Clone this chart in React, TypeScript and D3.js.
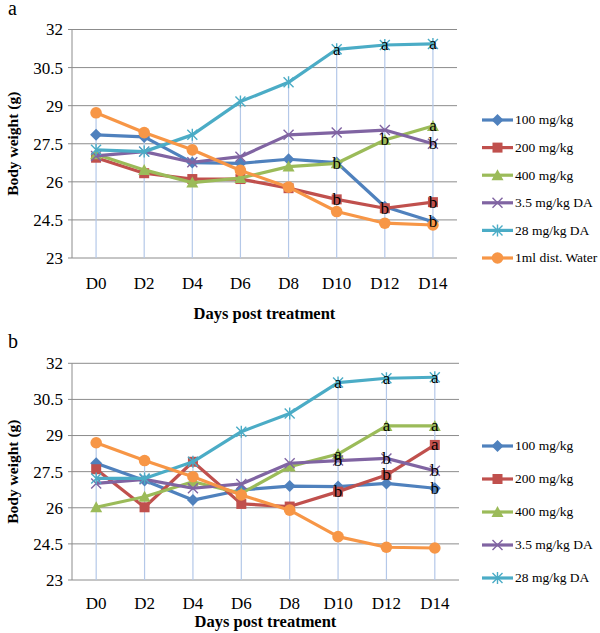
import React from "react";
import * as d3 from "d3";

const days = ["D0", "D2", "D4", "D6", "D8", "D10", "D12", "D14"];
const yTicks = [23, 24.5, 26, 27.5, 29, 30.5, 32];
const seriesNames = ["100 mg/kg", "200 mg/kg", "400 mg/kg", "3.5 mg/kg DA", "28 mg/kg DA", "1ml dist. Water"];
const colors = ["#4F81BD", "#C0504D", "#9BBB59", "#8064A2", "#4BACC6", "#F79646"];
const markers = ["diamond", "square", "triangle", "x", "star", "circle"];

// Panel a values
const a100 = [27.85, 27.77, 26.76, 26.73, 26.89, 26.76, 25.02, 24.43];
const a200 = [26.95, 26.34, 26.11, 26.11, 25.75, 25.31, 24.96, 25.2];
const a400 = [27.09, 26.47, 25.97, 26.15, 26.6, 26.73, 27.65, 28.2];
const aDA35 = [27.02, 27.19, 26.77, 26.99, 27.85, 27.94, 28.04, 27.5];
const aDA28 = [27.26, 27.19, 27.85, 29.16, 29.92, 31.22, 31.39, 31.43];
const aWater = [28.72, 27.94, 27.26, 26.45, 25.79, 24.83, 24.37, 24.3];
const aLetters100 = ["", "", "", "", "", "", "", "b"];
const aLetters200 = ["", "", "", "", "", "b", "b", "b"];
const aLetters400 = ["", "", "", "", "", "b", "b", "a"];
const aLettersDA35 = ["", "", "", "", "", "", "", "b"];
const aLettersDA28 = ["", "", "", "", "", "a", "a", "a"];
const aLettersWater = ["", "", "", "", "", "", "", ""];

// Panel b values
const b100 = [27.85, 27.13, 26.32, 26.74, 26.9, 26.88, 27.01, 26.81];
const b200 = [27.6, 26.02, 27.91, 26.16, 26.05, 26.67, 27.36, 28.61];
const b400 = [26.02, 26.46, 27.08, 26.6, 27.71, 28.23, 29.4, 29.4];
const bDA35 = [27.01, 27.18, 26.81, 26.99, 27.85, 27.96, 28.05, 27.54];
const bDA28 = [27.22, 27.22, 27.91, 29.16, 29.92, 31.2, 31.38, 31.42];
const bWater = [28.7, 27.96, 27.29, 26.53, 25.9, 24.8, 24.36, 24.33];
const bLetters100 = ["", "", "", "", "", "", "", "b"];
const bLetters200 = ["", "", "", "", "", "b", "b", "a"];
const bLetters400 = ["", "", "", "", "", "a", "a", "a"];
const bLettersDA35 = ["", "", "", "", "", "b", "b", "b"];
const bLettersDA28 = ["", "", "", "", "", "a", "a", "a"];
const bLettersWater = ["", "", "", "", "", "", "", ""];

const FONT = "'Liberation Serif', 'Times New Roman', serif";

function Marker({ type, x, y, color }: { type: string; x: number; y: number; color: string }) {
  const s = 5;
  if (type === "diamond")
    return <path d={`M${x},${y - s - 1}L${x + s + 1},${y}L${x},${y + s + 1}L${x - s - 1},${y}Z`} fill={color} />;
  if (type === "square") return <rect x={x - s} y={y - s} width={2 * s} height={2 * s} fill={color} />;
  if (type === "triangle")
    return <path d={`M${x},${y - s - 1}L${x + s + 1},${y + s}L${x - s - 1},${y + s}Z`} fill={color} />;
  if (type === "circle") return <circle cx={x} cy={y} r={s + 0.8} fill={color} />;
  if (type === "x")
    return (
      <path d={`M${x - s},${y - s}L${x + s},${y + s}M${x - s},${y + s}L${x + s},${y - s}`} stroke={color} strokeWidth={1.4} />
    );
  return (
    <path
      d={`M${x - s},${y - s}L${x + s},${y + s}M${x - s},${y + s}L${x + s},${y - s}M${x},${y - s - 1}L${x},${y + s + 1}`}
      stroke={color}
      strokeWidth={1.4}
    />
  );
}

function Panel({
  label, top, bottom, right, legendTop, legendStep, titleY, tickLabelY, series, letters, nLegend,
}: {
  label: string; top: number; bottom: number; right: number; legendTop: number; legendStep: number;
  titleY: number; tickLabelY: number; series: number[][]; letters: string[][]; nLegend: number;
}) {
  const left = 72;
  const x = d3.scaleBand<string>().domain(days).range([left, right]);
  const cx = (d: string) => (x(d) as number) + x.bandwidth() / 2;
  const y = d3.scaleLinear().domain([23, 32]).range([bottom, top]);
  const line = d3.line<number>().x((_, i) => cx(days[i])).y((v) => y(v));
  const maxes = days.map((_, i) => d3.max(series, (s) => s[i]) as number);
  return (
    <g>
      <text x={8} y={top - 15} fontFamily={FONT} fontSize={20}>{label}</text>
      {yTicks.map((t) => (
        <g key={t}>
          <line x1={left - 4} x2={right} y1={y(t)} y2={y(t)} stroke="#8c8c8c" strokeWidth={1} />
          <text x={63} y={y(t)} dy="0.35em" textAnchor="end" fontFamily={FONT} fontSize={17}>{t}</text>
        </g>
      ))}
      <line x1={left} x2={left} y1={top} y2={bottom} stroke="#8c8c8c" strokeWidth={1} />
      {days.map((d, i) => (
        <line key={d} x1={cx(d)} x2={cx(d)} y1={y(maxes[i])} y2={bottom} stroke="#b4c8e8" strokeWidth={1.2} />
      ))}
      {days.map((d) => (
        <text key={d} x={cx(d)} y={tickLabelY} textAnchor="middle" fontFamily={FONT} fontSize={17}>{d}</text>
      ))}
      <text x={(left + right) / 2} y={titleY} textAnchor="middle" fontFamily={FONT} fontSize={16.5} fontWeight="bold">
        Days post treatment
      </text>
      <text
        transform={`translate(18,${(top + bottom) / 2}) rotate(-90)`}
        textAnchor="middle"
        fontFamily={FONT}
        fontSize={15.5}
        fontWeight="bold"
      >
        Body weight (g)
      </text>
      {series.map((s, k) => (
        <g key={k}>
          <path d={line(s) as string} fill="none" stroke={colors[k]} strokeWidth={3.2} strokeLinejoin="round" />
          {s.map((v, i) => (
            <Marker key={i} type={markers[k]} x={cx(days[i])} y={y(v)} color={colors[k]} />
          ))}
        </g>
      ))}
      {series.map((s, k) =>
        s.map((v, i) =>
          letters[k][i] ? (
            <text key={`${k}-${i}`} x={cx(days[i])} y={y(v)} dy="0.32em" textAnchor="middle" fontFamily={FONT} fontSize={17}>
              {letters[k][i]}
            </text>
          ) : null
        )
      )}
      {seriesNames.slice(0, nLegend).map((n, k) => {
        const ly = legendTop + k * legendStep;
        return (
          <g key={n}>
            <line x1={482} x2={513} y1={ly} y2={ly} stroke={colors[k]} strokeWidth={3.2} />
            <Marker type={markers[k]} x={497.5} y={ly} color={colors[k]} />
            <text x={515} y={ly} dy="0.33em" fontFamily={FONT} fontSize={13.5}>{n}</text>
          </g>
        );
      })}
    </g>
  );
}

export default function App() {
  return (
    <svg width={600} height={633} style={{ position: "absolute", left: 0, top: 0, background: "#fff" }}>
      <rect width={600} height={633} fill="#fff" />
      <Panel
        label="a"
        top={29.5}
        bottom={258}
        right={457}
        legendTop={120}
        legendStep={27.6}
        titleY={319}
        tickLabelY={289}
        series={[a100, a200, a400, aDA35, aDA28, aWater]}
        letters={[aLetters100, aLetters200, aLetters400, aLettersDA35, aLettersDA28, aLettersWater]}
        nLegend={6}
      />
      <Panel
        label="b"
        top={363.3}
        bottom={580}
        right={459}
        legendTop={446}
        legendStep={33}
        titleY={627}
        tickLabelY={609}
        series={[b100, b200, b400, bDA35, bDA28, bWater]}
        letters={[bLetters100, bLetters200, bLetters400, bLettersDA35, bLettersDA28, bLettersWater]}
        nLegend={5}
      />
    </svg>
  );
}
